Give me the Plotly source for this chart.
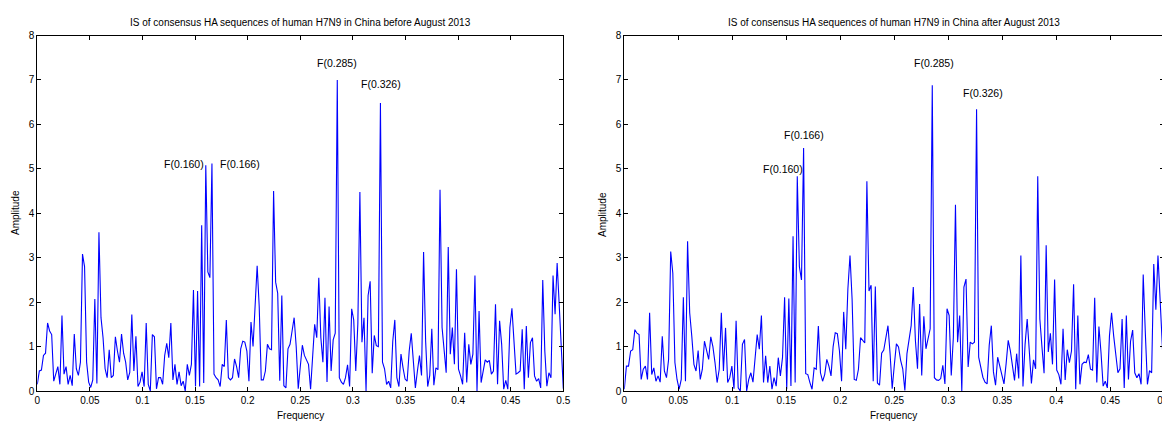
import plotly.graph_objects as go

N_FFT = 512
freq = [i / N_FFT for i in range(257)]

amp_before = [
    0.15, 0.45, 0.47, 0.8, 0.85, 1.53, 1.35, 1.27, 0.22, 0.4,
    0.55, 0.15, 1.7, 0.38, 0.55, 0.15, 0.35, 0.12, 1.28, 0.5,
    0.35, 0.65, 3.08, 2.8, 0.65, 0.2, 0.08, 0.25, 2.07, 0.17,
    3.57, 1.65, 1.2, 0.5, 0.3, 0.93, 0.3, 0.35, 1.22, 0.9,
    0.65, 1.28, 0.85, 0.65, 0.25, 0.42, 1.72, 0.45, 1.23, 0.1,
    0.2, 0.43, 0.1, 1.53, 0.15, 0.0, 1.27, 1.22, 0.05, 0.3,
    0.3, 0.15, 0.8, 1.07, 0.75, 1.53, 0.25, 0.6, 0.15, 0.43,
    0.12, 0.22, 0.0, 0.6, 0.35, 0.6, 2.27, 0.1, 2.25, 0.1,
    3.73, 0.18, 5.08, 2.68, 2.55, 5.12, 0.38, 0.3, 0.25, 0.1,
    0.6, 0.55, 1.6, 0.3, 0.25, 0.3, 0.72, 0.55, 0.3, 0.95,
    1.12, 1.1, 0.9, 0.22, 1.55, 1.0, 2.0, 2.82, 1.9, 0.25,
    0.25, 0.45, 1.05, 0.95, 0.93, 4.5, 2.45, 2.2, 0.23, 2.15,
    0.12, 0.07, 0.95, 1.05, 1.35, 1.65, 1.0, 0.05, 0.55, 1.03,
    0.8, 0.7, 0.6, 0.04, 0.8, 1.5, 1.2, 2.55, 1.2, 0.65,
    2.1, 0.2, 1.9, 0.45, 1.15, 1.3, 7.0, 0.3, 0.2, 0.15,
    0.3, 0.59, 0.1, 1.85, 1.6, 0.45, 1.5, 4.48, 1.1, 1.65,
    0.0, 2.15, 2.47, 0.4, 1.25, 1.02, 1.0, 6.48, 0.65, 0.5,
    0.15, 0.22, 0.07, 1.12, 1.6, 0.3, 0.1, 0.83, 0.52, 0.27,
    0.22, 0.9, 1.3, 0.75, 0.07, 0.45, 0.8, 0.35, 3.13, 1.12,
    0.1, 0.35, 1.4, 0.13, 0.52, 0.48, 4.53, 1.43, 0.9, 0.41,
    3.24, 0.83, 1.43, 0.6, 2.74, 0.49, 0.34, 0.15, 1.31, 0.19,
    1.05, 0.6, 0.83, 2.6, 0.0, 1.8, 0.19, 0.45, 0.7, 0.65,
    0.69, 0.38, 0.45, 1.95, 0.15, 1.58, 1.05, 0.04, 0.24, 0.04,
    1.43, 1.86, 1.05, 0.38, 0.41, 0.45, 1.39, 0.04, 1.46, 0.3,
    1.09, 1.2, 0.34, 0.22, 0.28, 0.07, 2.5, 0.9, 0.11, 0.41,
    0.3, 2.6, 1.73, 2.88, 1.95, 1.0, 0.05,
]

amp_after = [
    0.04, 0.56, 0.56, 0.9, 0.93, 1.38, 1.3, 1.27, 0.26, 0.49,
    0.56, 0.26, 1.76, 0.37, 0.52, 0.22, 0.34, 0.2, 1.23, 0.45,
    0.3, 0.71, 3.14, 2.65, 0.64, 0.26, 0.04, 0.26, 2.11, 0.22,
    3.37, 1.76, 1.23, 0.6, 0.45, 0.91, 0.26, 0.49, 1.12, 0.94,
    0.71, 1.22, 1.0, 0.64, 0.19, 0.49, 1.76, 0.45, 1.42, 0.19,
    0.3, 0.56, 0.05, 1.58, 0.07, 0.0, 1.05, 1.16, 0.0, 0.26,
    0.41, 0.2, 0.71, 1.27, 0.94, 1.7, 0.19, 0.79, 0.19, 0.56,
    0.04, 0.3, 0.11, 0.75, 0.34, 0.75, 2.11, 0.04, 2.08, 0.11,
    3.48, 0.19, 4.83, 2.8, 2.5, 5.47, 0.39, 0.37, 0.19, 0.04,
    0.52, 0.49, 1.46, 0.41, 0.22, 0.37, 0.71, 0.56, 0.34, 1.0,
    1.31, 1.29, 0.9, 0.22, 1.78, 0.94, 2.3, 3.05, 2.06, 0.26,
    0.24, 0.49, 1.2, 1.13, 1.08, 4.72, 2.25, 2.38, 0.22, 2.35,
    0.18, 0.13, 0.85, 0.92, 1.25, 1.47, 0.84, 0.05, 0.58, 1.06,
    0.99, 0.69, 0.5, 0.01, 0.84, 1.14, 1.47, 2.34, 1.14, 0.5,
    1.96, 0.35, 1.68, 0.95, 1.21, 1.4, 6.88, 0.3, 0.25, 0.24,
    0.28, 0.58, 0.16, 1.85, 1.7, 0.35, 1.21, 4.19, 1.1, 1.7,
    0.0, 2.34, 2.52, 0.54, 1.1, 1.06, 1.1, 6.34, 0.76, 0.5,
    0.31, 0.2, 0.16, 1.03, 1.47, 0.43, 0.13, 0.76, 0.54, 0.31,
    0.16, 0.61, 1.14, 0.91, 0.54, 0.24, 0.84, 0.28, 3.05, 0.1,
    1.05, 1.62, 0.9, 0.17, 0.7, 0.5, 4.83, 1.62, 0.99, 0.4,
    3.28, 0.88, 1.3, 0.6, 2.51, 0.47, 0.37, 0.15, 1.4, 0.25,
    0.93, 0.64, 0.9, 2.4, 0.04, 1.7, 0.15, 0.6, 0.65, 0.64,
    0.82, 0.49, 0.47, 2.1, 0.19, 1.45, 0.86, 0.11, 0.22, 0.07,
    1.24, 1.76, 1.24, 0.75, 0.41, 0.5, 1.62, 0.07, 1.7, 0.26,
    1.12, 1.37, 0.41, 0.3, 0.39, 0.15, 2.62, 1.31, 0.15, 0.46,
    0.41, 2.86, 1.83, 3.05, 2.1, 0.9, 0.1,
]

titles = [
    "IS of consensus HA sequences of human H7N9 in China before August 2013",
    "IS of consensus HA sequences of human H7N9 in China after August 2013",
]
x_tick_vals = [0, 0.05, 0.1, 0.15, 0.2, 0.25, 0.3, 0.35, 0.4, 0.45, 0.5]
x_tick_text = ["0", "0.05", "0.1", "0.15", "0.2", "0.25", "0.3", "0.35", "0.4", "0.45", "0.5"]
y_tick_vals = [0, 1, 2, 3, 4, 5, 6, 7, 8]

# peak labels: (text, x, y, xanchor)
labels_before = [
    ("F(0.160)", 0.1605, 5.1, "right"),
    ("F(0.166)", 0.1715, 5.1, "left"),
    ("F(0.285)", 0.2845, 7.38, "center"),
    ("F(0.326)", 0.327, 6.9, "center"),
]
labels_after = [
    ("F(0.160)", 0.1467, 5.0, "center"),
    ("F(0.166)", 0.1667, 5.76, "center"),
    ("F(0.285)", 0.2868, 7.38, "center"),
    ("F(0.326)", 0.3318, 6.71, "center"),
]

# The page has an 8 px body margin, so the figure is drawn from (8, 8).
OFF = 8
PAGE_W, PAGE_H = 1170, 422
W, H = PAGE_W - OFF, PAGE_H - OFF
FONT = "Liberation Sans, Arial, sans-serif"


def fx(px):
    return (px - OFF) / W


def fy(py):
    return (H - (py - OFF)) / H


fig = go.Figure()
fig.add_trace(go.Scatter(x=freq, y=amp_before, mode="lines",
                         line=dict(color="#0000FF", width=1.1),
                         xaxis="x", yaxis="y", showlegend=False))
fig.add_trace(go.Scatter(x=freq, y=amp_after, mode="lines",
                         line=dict(color="#0000FF", width=1.1),
                         xaxis="x2", yaxis="y2", showlegend=False))

y_dom = [fy(391.0), fy(35.5)]
x_dom1 = [fx(37.3), fx(563.3)]
x_dom2 = [fx(624.3), fx(1164.3)]

axis_common = dict(showline=True, linecolor="black", linewidth=1, mirror="ticks",
                   ticks="inside", ticklen=4, tickcolor="black", tickwidth=1,
                   showgrid=False, zeroline=False, automargin=False,
                   ticklabeloverflow="allow",
                   tickfont=dict(family=FONT, size=10, color="black"))

fig.update_layout(
    width=W, height=H, autosize=False,
    margin=dict(l=0, r=0, t=0, b=0),
    paper_bgcolor="white", plot_bgcolor="white",
    font=dict(family=FONT, size=10, color="black"),
    xaxis=dict(domain=x_dom1, range=[0, 0.5], tickvals=x_tick_vals, ticktext=x_tick_text,
               anchor="y", **axis_common),
    yaxis=dict(domain=y_dom, range=[0, 8], tickvals=y_tick_vals, anchor="x", **axis_common),
    xaxis2=dict(domain=x_dom2, range=[0, 0.5], tickvals=x_tick_vals, ticktext=x_tick_text,
                anchor="y2", **axis_common),
    yaxis2=dict(domain=y_dom, range=[0, 8], tickvals=y_tick_vals, anchor="x2", **axis_common),
)

annos = []
for dom, title in zip([x_dom1, x_dom2], titles):
    cx = (dom[0] + dom[1]) / 2
    annos.append(dict(text=title, x=cx, y=fy(22.5), xref="paper", yref="paper",
                      showarrow=False, xanchor="center", yanchor="middle",
                      font=dict(family=FONT, size=10, color="black")))
for cxp in (300, 894):
    annos.append(dict(text="Frequency", x=fx(cxp), y=fy(415), xref="paper", yref="paper",
                      showarrow=False, xanchor="center", yanchor="middle",
                      font=dict(family=FONT, size=10, color="black")))
for cxp, cyp in ((15, 213), (602, 215)):
    annos.append(dict(text="Amplitude", x=fx(cxp), y=fy(cyp), xref="paper", yref="paper",
                      showarrow=False, textangle=-90, xanchor="center", yanchor="middle",
                      font=dict(family=FONT, size=10, color="black")))

for labels, xr, yr in [(labels_before, "x", "y"), (labels_after, "x2", "y2")]:
    for text, lx, ly, anc in labels:
        annos.append(dict(text=text, x=lx, y=ly, xref=xr, yref=yr, showarrow=False,
                          xanchor=anc, yanchor="middle",
                          font=dict(family=FONT, size=10.5, color="black")))

fig.update_layout(annotations=annos)
fig.write_html("out.html")
